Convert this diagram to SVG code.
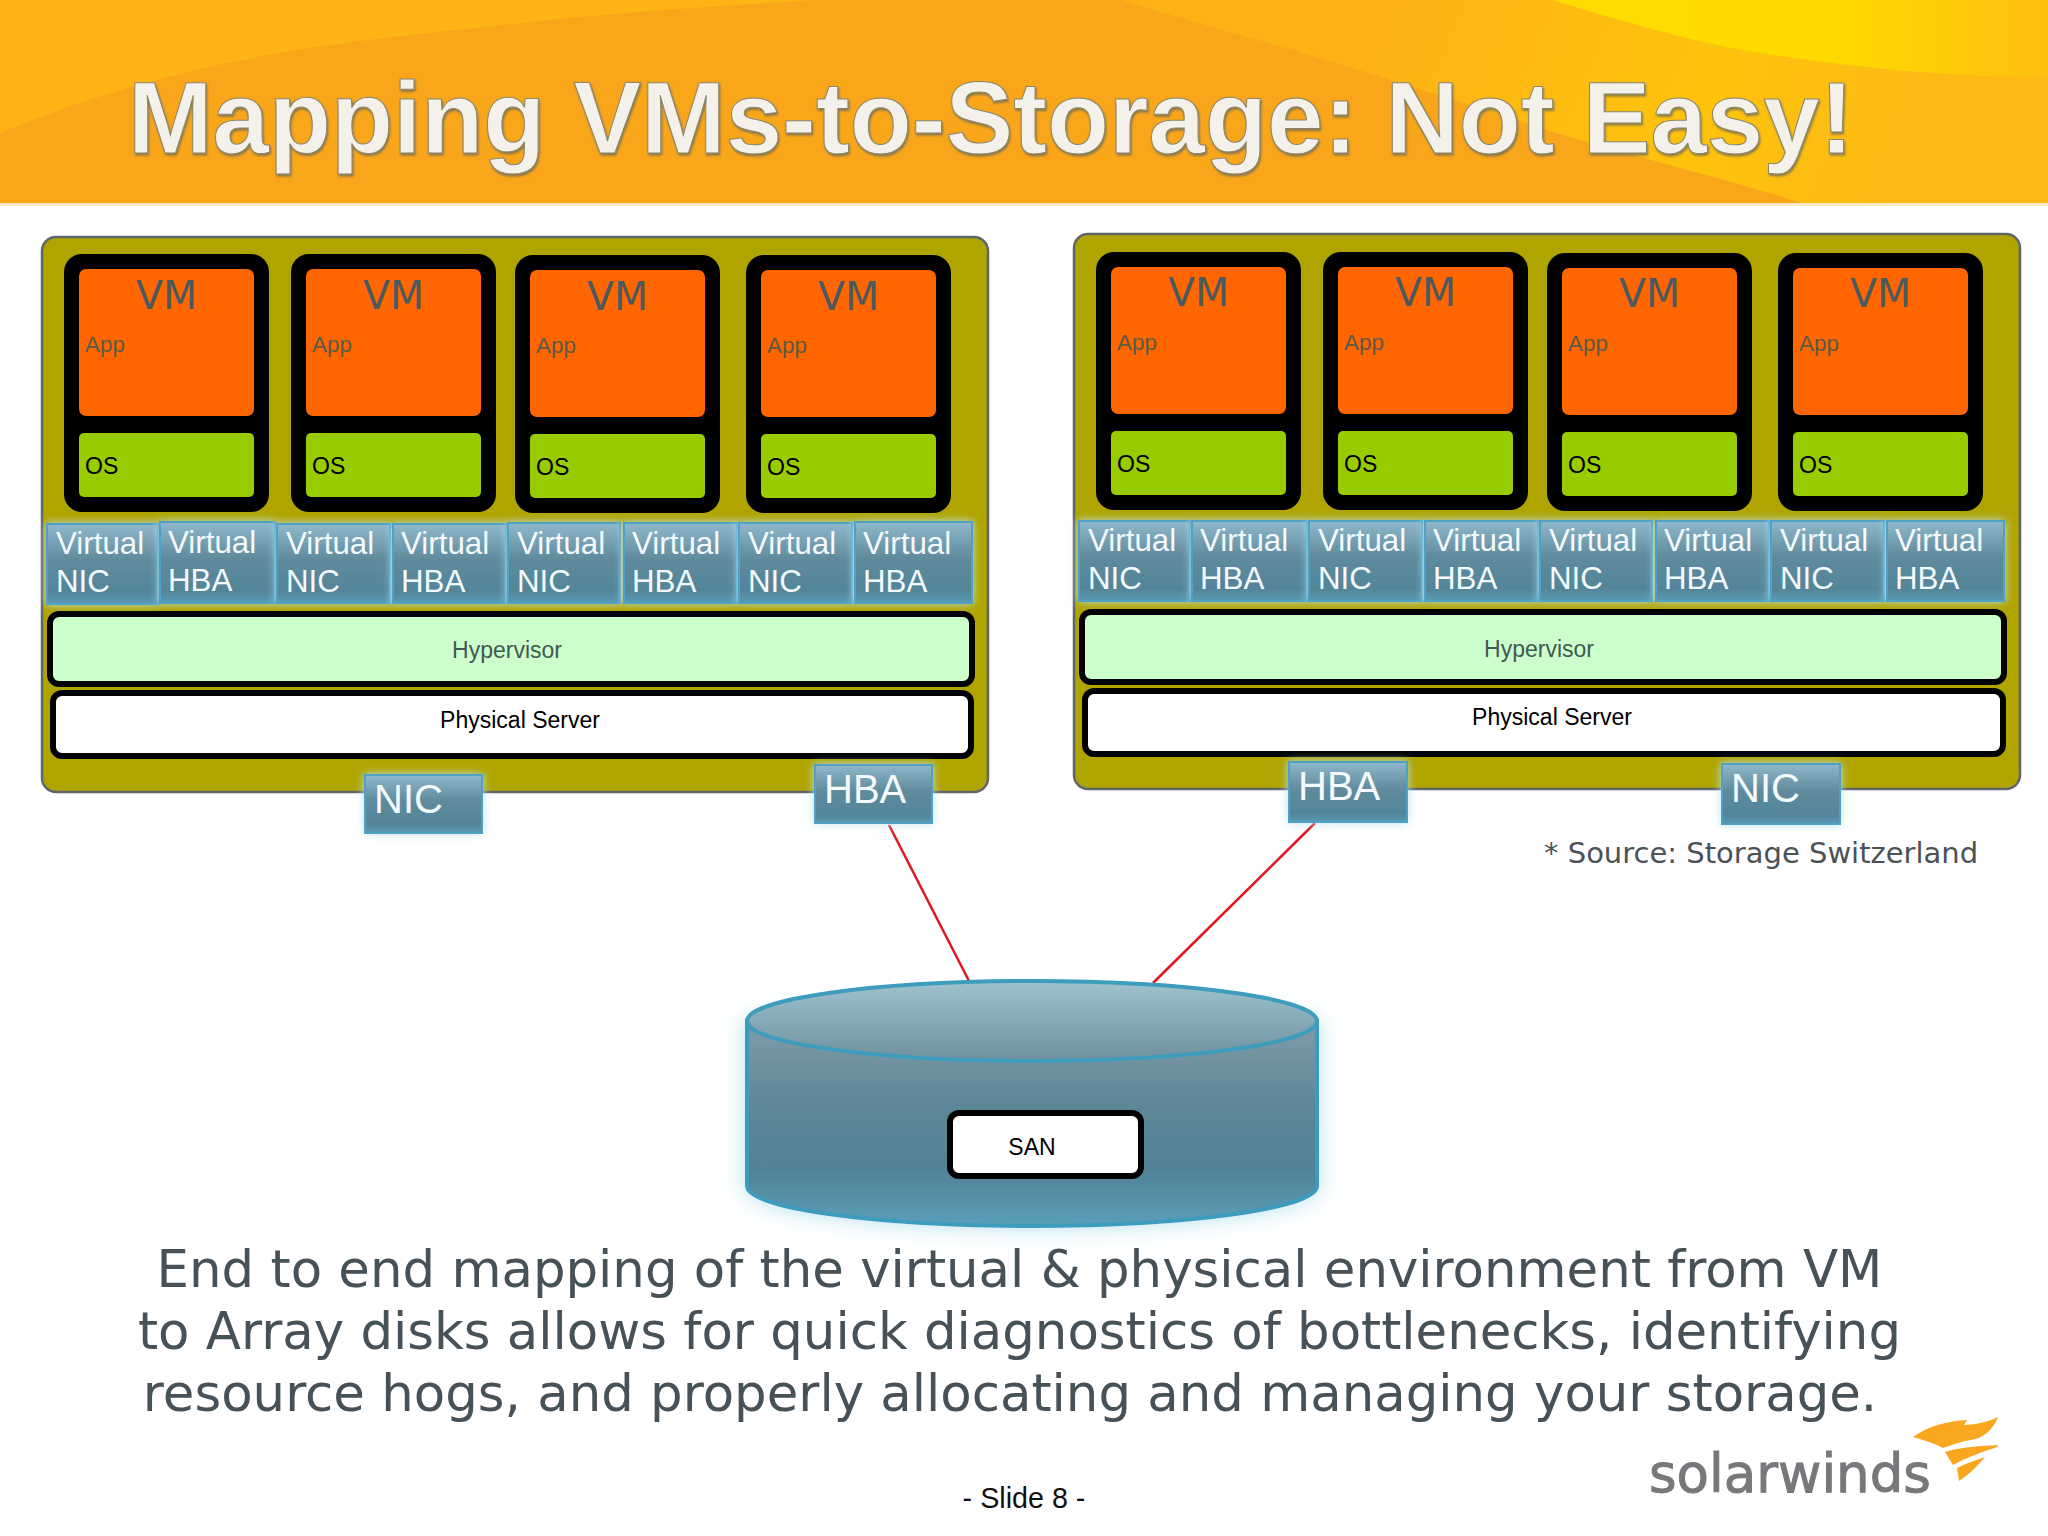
<svg xmlns="http://www.w3.org/2000/svg" width="2048" height="1536" viewBox="0 0 2048 1536">
<style>
.panel{fill:#b0a400;stroke:#5f6669;stroke-width:2.5}
.vmo{fill:#000}.app{fill:#f60}.os{fill:#9c0}
.vmt{font:39.5px "DejaVu Sans",sans-serif;fill:#4a5a5e;text-anchor:middle}
.appt{font:22.4px "Liberation Sans",Arial,sans-serif;fill:#5b5b45}
.ost{font:23px "Liberation Sans",Arial,sans-serif;fill:#000}
.port{fill:url(#pg);stroke:#4fa2c6;stroke-width:2;filter:url(#glow)}
.pt{font:31.3px "Liberation Sans",Arial,sans-serif;fill:#f4f9fb}
.pb{font:40px "Liberation Sans",Arial,sans-serif;fill:#f4f9fb}
.hyp{fill:#cfc;stroke:#000;stroke-width:6}
.phy{fill:#fff;stroke:#000;stroke-width:6}
.hypt{font:23px "Liberation Sans",Arial,sans-serif;fill:#3f5a52;text-anchor:middle}
.phyt{font:23px "Liberation Sans",Arial,sans-serif;fill:#000;text-anchor:middle}
.wire{stroke:#e5141e;stroke-width:2.5;fill:none}
.body{font:51.35px "DejaVu Sans",sans-serif;fill:#465158;text-anchor:middle}
</style>
<defs>
<linearGradient id="pg" x1="0" y1="0" x2="0" y2="1"><stop offset="0" stop-color="#8fb8cb"/><stop offset=".45" stop-color="#5f8b9d"/><stop offset=".85" stop-color="#528599"/><stop offset="1" stop-color="#5a9ab5"/></linearGradient>
<linearGradient id="cb" gradientUnits="userSpaceOnUse" x1="0" y1="1040" x2="0" y2="1226"><stop offset="0" stop-color="#7a98a5"/><stop offset=".35" stop-color="#5d8797"/><stop offset=".7" stop-color="#518396"/><stop offset="1" stop-color="#5b9fb9"/></linearGradient>
<linearGradient id="ct" x1="0" y1="0" x2="0" y2="1"><stop offset="0" stop-color="#9ec2ce"/><stop offset="1" stop-color="#6f919f"/></linearGradient>
<linearGradient id="yl" gradientUnits="userSpaceOnUse" x1="1550" y1="0" x2="2048" y2="0"><stop offset="0" stop-color="#ffdc00"/><stop offset=".55" stop-color="#ffda00"/><stop offset="1" stop-color="#fdc010"/></linearGradient>
<linearGradient id="rg" gradientUnits="userSpaceOnUse" x1="1400" y1="0" x2="1900" y2="203"><stop offset="0" stop-color="#fdb316"/><stop offset=".6" stop-color="#ffc30c"/><stop offset="1" stop-color="#fdb916"/></linearGradient>
<filter id="glow" x="-20%" y="-20%" width="140%" height="140%"><feGaussianBlur in="SourceAlpha" stdDeviation="5" result="b"/><feFlood flood-color="#b8e2f2" flood-opacity=".95"/><feComposite in2="b" operator="in"/><feMerge><feMergeNode/><feMergeNode in="SourceGraphic"/></feMerge></filter>
<filter id="glow2" x="-10%" y="-15%" width="120%" height="130%"><feGaussianBlur in="SourceAlpha" stdDeviation="11" result="b"/><feFlood flood-color="#a8dcec" flood-opacity=".85"/><feComposite in2="b" operator="in"/><feMerge><feMergeNode/><feMergeNode in="SourceGraphic"/></feMerge></filter>
<filter id="ts" x="-2%" y="-10%" width="104%" height="120%"><feDropShadow dx="1" dy="2" stdDeviation="1" flood-color="#6f6a55" flood-opacity=".8"/></filter>
</defs>
<rect width="2048" height="1536" fill="#fff"/>
<g id="header">
<rect width="2048" height="203" fill="#f9a61b"/>
<path d="M0,133C60,108 130,85 196,70C300,45 410,35 522,23C640,10 740,5 816,0H0Z" fill="#fdb414"/>
<path d="M1122,0C1200,25 1280,45 1350,67C1420,90 1490,110 1546,130C1640,158 1730,180 1801,203H2048V0Z" fill="url(#rg)"/>
<path d="M1553,0C1610,18 1680,38 1742,50C1830,65 1950,78 2048,77V0Z" fill="url(#yl)"/>
<rect y="203" width="2048" height="3" fill="#fde9c2"/>
<text x="128" y="153" font-family="'Liberation Sans',Arial,sans-serif" font-weight="700" font-size="101.5" fill="#f3f1e9" stroke="#8c876a" stroke-width="1" filter="url(#ts)">Mapping VMs-to-Storage: Not Easy!</text>
</g>
<g id="connectors">
<line class="wire" x1="889" y1="825" x2="969" y2="981"/>
<line class="wire" x1="1315" y1="823" x2="1153" y2="983"/>
</g>
<g id="server-left">
<rect class="panel" x="42" y="237" width="946" height="555" rx="14"/>
<g id="l-vm1" transform="translate(64,254)"><rect class="vmo" width="205" height="258" rx="18"/><rect class="app" x="15" y="15" width="175" height="147" rx="7"/><rect class="os" x="15" y="179" width="175" height="64" rx="5"/><text class="vmt" x="102.5" y="55">VM</text><text class="appt" x="21" y="98">App</text><text class="ost" x="21" y="220">OS</text></g>
<g id="l-vm2" transform="translate(291,254)"><rect class="vmo" width="205" height="258" rx="18"/><rect class="app" x="15" y="15" width="175" height="147" rx="7"/><rect class="os" x="15" y="179" width="175" height="64" rx="5"/><text class="vmt" x="102.5" y="55">VM</text><text class="appt" x="21" y="98">App</text><text class="ost" x="21" y="220">OS</text></g>
<g id="l-vm3" transform="translate(515,255)"><rect class="vmo" width="205" height="258" rx="18"/><rect class="app" x="15" y="15" width="175" height="147" rx="7"/><rect class="os" x="15" y="179" width="175" height="64" rx="5"/><text class="vmt" x="102.5" y="55">VM</text><text class="appt" x="21" y="98">App</text><text class="ost" x="21" y="220">OS</text></g>
<g id="l-vm4" transform="translate(746,255)"><rect class="vmo" width="205" height="258" rx="18"/><rect class="app" x="15" y="15" width="175" height="147" rx="7"/><rect class="os" x="15" y="179" width="175" height="64" rx="5"/><text class="vmt" x="102.5" y="55">VM</text><text class="appt" x="21" y="98">App</text><text class="ost" x="21" y="220">OS</text></g>
<g id="l-vnic1"><rect class="port" x="47" y="524" width="111" height="80"/><text class="pt" x="56" y="554">Virtual</text><text class="pt" x="56" y="592">NIC</text></g>
<g id="l-vhba1"><rect class="port" x="160" y="522" width="115" height="81"/><text class="pt" x="168" y="553">Virtual</text><text class="pt" x="168" y="591">HBA</text></g>
<g id="l-vnic2"><rect class="port" x="277" y="524" width="113" height="79"/><text class="pt" x="286" y="554">Virtual</text><text class="pt" x="286" y="592">NIC</text></g>
<g id="l-vhba2"><rect class="port" x="393" y="524" width="113" height="79"/><text class="pt" x="401" y="554">Virtual</text><text class="pt" x="401" y="592">HBA</text></g>
<g id="l-vnic3"><rect class="port" x="508" y="523" width="112" height="80"/><text class="pt" x="517" y="554">Virtual</text><text class="pt" x="517" y="592">NIC</text></g>
<g id="l-vhba3"><rect class="port" x="624" y="523" width="113" height="80"/><text class="pt" x="632" y="554">Virtual</text><text class="pt" x="632" y="592">HBA</text></g>
<g id="l-vnic4"><rect class="port" x="739" y="523" width="113" height="80"/><text class="pt" x="748" y="554">Virtual</text><text class="pt" x="748" y="592">NIC</text></g>
<g id="l-vhba4"><rect class="port" x="855" y="522" width="117" height="81"/><text class="pt" x="863" y="554">Virtual</text><text class="pt" x="863" y="592">HBA</text></g>
<g id="l-hypervisor"><rect class="hyp" x="50" y="614" width="922" height="70" rx="9"/><text class="hypt" x="507" y="658">Hypervisor</text></g>
<g id="l-physical"><rect class="phy" x="53" y="693" width="918" height="63" rx="9"/><text class="phyt" x="520" y="728">Physical Server</text></g>
<g id="l-nic"><rect class="port" x="365" y="775" width="117" height="58"/><text class="pb" x="374" y="813">NIC</text></g>
<g id="l-hba"><rect class="port" x="815" y="765" width="117" height="58"/><text class="pb" x="824" y="803">HBA</text></g>
</g>
<g id="server-right" transform="translate(1032,-3)">
<rect class="panel" x="42" y="237" width="946" height="555" rx="14"/>
<g id="r-vm1" transform="translate(64,255)"><rect class="vmo" width="205" height="258" rx="18"/><rect class="app" x="15" y="15" width="175" height="147" rx="7"/><rect class="os" x="15" y="179" width="175" height="64" rx="5"/><text class="vmt" x="102.5" y="54">VM</text><text class="appt" x="21" y="98">App</text><text class="ost" x="21" y="220">OS</text></g>
<g id="r-vm2" transform="translate(291,255)"><rect class="vmo" width="205" height="258" rx="18"/><rect class="app" x="15" y="15" width="175" height="147" rx="7"/><rect class="os" x="15" y="179" width="175" height="64" rx="5"/><text class="vmt" x="102.5" y="54">VM</text><text class="appt" x="21" y="98">App</text><text class="ost" x="21" y="220">OS</text></g>
<g id="r-vm3" transform="translate(515,256)"><rect class="vmo" width="205" height="258" rx="18"/><rect class="app" x="15" y="15" width="175" height="147" rx="7"/><rect class="os" x="15" y="179" width="175" height="64" rx="5"/><text class="vmt" x="102.5" y="54">VM</text><text class="appt" x="21" y="98">App</text><text class="ost" x="21" y="220">OS</text></g>
<g id="r-vm4" transform="translate(746,256)"><rect class="vmo" width="205" height="258" rx="18"/><rect class="app" x="15" y="15" width="175" height="147" rx="7"/><rect class="os" x="15" y="179" width="175" height="64" rx="5"/><text class="vmt" x="102.5" y="54">VM</text><text class="appt" x="21" y="98">App</text><text class="ost" x="21" y="220">OS</text></g>
<g id="r-vnic1"><rect class="port" x="47" y="524" width="111" height="80"/><text class="pt" x="56" y="554">Virtual</text><text class="pt" x="56" y="592">NIC</text></g>
<g id="r-vhba1"><rect class="port" x="160" y="524" width="115" height="80"/><text class="pt" x="168" y="554">Virtual</text><text class="pt" x="168" y="592">HBA</text></g>
<g id="r-vnic2"><rect class="port" x="277" y="524" width="113" height="80"/><text class="pt" x="286" y="554">Virtual</text><text class="pt" x="286" y="592">NIC</text></g>
<g id="r-vhba2"><rect class="port" x="393" y="524" width="113" height="80"/><text class="pt" x="401" y="554">Virtual</text><text class="pt" x="401" y="592">HBA</text></g>
<g id="r-vnic3"><rect class="port" x="508" y="524" width="112" height="80"/><text class="pt" x="517" y="554">Virtual</text><text class="pt" x="517" y="592">NIC</text></g>
<g id="r-vhba3"><rect class="port" x="624" y="524" width="113" height="80"/><text class="pt" x="632" y="554">Virtual</text><text class="pt" x="632" y="592">HBA</text></g>
<g id="r-vnic4"><rect class="port" x="739" y="524" width="113" height="80"/><text class="pt" x="748" y="554">Virtual</text><text class="pt" x="748" y="592">NIC</text></g>
<g id="r-vhba4"><rect class="port" x="855" y="524" width="117" height="80"/><text class="pt" x="863" y="554">Virtual</text><text class="pt" x="863" y="592">HBA</text></g>
<g id="r-hypervisor"><rect class="hyp" x="50" y="615" width="922" height="70" rx="9"/><text class="hypt" x="507" y="660">Hypervisor</text></g>
<g id="r-physical"><rect class="phy" x="53" y="694" width="918" height="63" rx="9"/><text class="phyt" x="520" y="728">Physical Server</text></g>
<g id="r-hba"><rect class="port" x="257" y="765" width="118" height="60"/><text class="pb" x="266" y="803">HBA</text></g>
<g id="r-nic"><rect class="port" x="690" y="767" width="118" height="60"/><text class="pb" x="699" y="805">NIC</text></g>
</g>
<text id="source" x="1544" y="863" font-family="'DejaVu Sans',sans-serif" font-size="29" fill="#4a5257">* Source: Storage Switzerland</text>
<g id="san">
<path d="M747,1021V1186A285,40 0 0 0 1317,1186V1021Z" fill="url(#cb)" stroke="#3e9cbd" stroke-width="4" filter="url(#glow2)"/>
<ellipse cx="1032" cy="1021" rx="285" ry="40" fill="url(#ct)" stroke="#3e9cbd" stroke-width="4"/>
<rect class="phy" x="950" y="1113" width="191" height="63" rx="9"/>
<text class="phyt" x="1032" y="1155">SAN</text>
</g>
<g id="caption">
<text class="body" x="1019.5" y="1287">End to end mapping of the virtual &amp; physical environment from VM</text>
<text class="body" x="1019.5" y="1349">to Array disks allows for quick diagnostics of bottlenecks, identifying</text>
<text class="body" x="1010" y="1411">resource hogs, and properly allocating and managing your storage.</text>
</g>
<text id="slide-no" x="1024" y="1508" font-family="'Liberation Sans',Arial,sans-serif" font-size="28.7" fill="#111" text-anchor="middle">- Slide 8 -</text>
<g id="logo">
<text x="1649" y="1492" font-family="'DejaVu Sans',sans-serif" font-size="53" fill="#77787b" stroke="#77787b" stroke-width="1">solarwinds</text>
<path d="M1913,1437C1928,1426 1948,1421 1967,1420L1964,1425C1976,1425 1990,1421 1998,1417C1993,1430 1983,1438 1971,1440C1962,1441 1952,1445 1943,1448C1934,1443 1923,1440 1913,1437Z M1945,1452C1960,1447 1982,1446 1998,1445L1997,1447C1985,1451 1965,1458 1953,1465Z M1957,1468C1967,1463 1977,1460 1985,1457C1980,1463 1970,1474 1959,1481Z" fill="#f8a71e"/>
</g>
</svg>
